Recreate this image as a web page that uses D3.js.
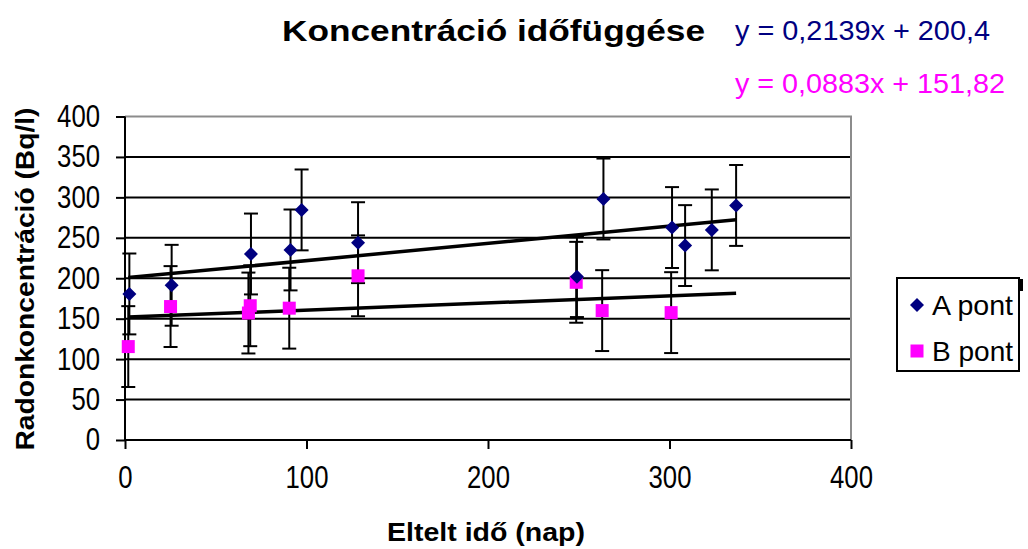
<!DOCTYPE html>
<html>
<head>
<meta charset="utf-8">
<script src="https://cdn.jsdelivr.net/npm/d3@7"></script>
<style>
  body { margin: 0; background: #fff; }
  text { font-family: Arial, "Liberation Sans", sans-serif; }
</style>
</head>
<body>
<div id="chart"></div>
<script>
// A pont measurements (days, Bq/l)
const aDays = [2.4, 25.7, 69.4, 91.2, 97.3, 128.4, 249, 263.6, 301.4, 308.6, 323.3, 336.7]
const aValues = [180.6, 191.3, 230, 235, 284.5, 244, 202, 298, 262.7, 240.4, 259.8, 290]
// B pont measurements
const bDays = [1.8, 25.1, 69, 68, 90.5, 128.4, 248.6, 262.9, 300.9]
const bValues = [115.5, 165, 166, 157, 163, 203, 195, 160, 157.5]
const errorValue = 50

// linear trendlines as printed on the chart
const trendA = { slope: 0.2139, intercept: 200.4, label: 'y = 0,2139x + 200,4' }
const trendB = { slope: 0.0883, intercept: 151.82, label: 'y = 0,0883x + 151,82' }

const xTicks = [0, 100, 200, 300, 400]
const yTicks = [0, 50, 100, 150, 200, 250, 300, 350, 400]

const width = 1028, height = 549
const plot = { left: 125, right: 851, top: 116.5, bottom: 440 }

const navy = '#000080', pink = '#ff00ff'

let svg = d3.select('#chart').append('svg')
  .attr('width', width)
  .attr('height', height)

const x = d3.scaleLinear().domain([0, 400]).range([plot.left, plot.right])
const y = d3.scaleLinear().domain([0, 400]).range([plot.bottom, plot.top])

// grid lines
svg.append('g')
  .selectAll('line')
  .data(yTicks.filter(d => d > 0 && d < 400))
  .enter()
  .append('line')
  .attr('x1', plot.left)
  .attr('x2', plot.right)
  .attr('y1', d => y(d))
  .attr('y2', d => y(d))
  .attr('stroke', '#000')
  .attr('stroke-width', 2)

// plot frame (top & right grey)
svg.append('path')
  .attr('d', `M${plot.left},${plot.top}H${plot.right}V${plot.bottom}`)
  .attr('fill', 'none')
  .attr('stroke', '#8c8c8c')
  .attr('stroke-width', 2)

// axes
const yAxis = svg.append('g')
  .attr('transform', `translate(${plot.left},0)`)
  .call(d3.axisLeft(y).tickValues(yTicks).tickSize(9).tickPadding(16).tickFormat(d3.format('d')))
const xAxis = svg.append('g')
  .attr('transform', `translate(0,${plot.bottom})`)
  .call(d3.axisBottom(x).tickValues(xTicks).tickSize(9).tickPadding(17).tickFormat(d3.format('d')))

for (const ax of [xAxis, yAxis]) {
  ax.select('.domain').attr('stroke', '#000').attr('stroke-width', 2)
  ax.selectAll('.tick line').attr('stroke', '#000').attr('stroke-width', 2)
  // narrow, tall digits like the original bitmap font
  ax.selectAll('.tick text')
    .attr('fill', '#000')
    .attr('textLength', d => String(d).length * 14.3)
    .attr('lengthAdjust', 'spacingAndGlyphs')
    .style('font-size', '31px')
    .style('font-family', 'Arial, "Liberation Sans", sans-serif')
}
yAxis.select('.domain').attr('d', `M0,${plot.top}V${plot.bottom}`)
xAxis.select('.domain').attr('d', `M${plot.left},0H${plot.right}`)

// trendlines
const xMin = d3.min(aDays.concat(bDays)), xMax = d3.max(aDays.concat(bDays))
for (const t of [trendA, trendB]) {
  svg.append('line')
    .attr('x1', x(xMin))
    .attr('x2', x(xMax))
    .attr('y1', y(t.slope * xMin + t.intercept))
    .attr('y2', y(t.slope * xMax + t.intercept))
    .attr('stroke', '#000')
    .attr('stroke-width', 3.5)
}

// error bars
function errorBars(days, values) {
  const g = svg.append('g').attr('stroke', '#000').attr('stroke-width', 2)
  days.forEach((d, i) => {
    const cx = x(d), top = y(values[i] + errorValue), bot = y(values[i] - errorValue)
    g.append('line').attr('x1', cx).attr('x2', cx).attr('y1', top).attr('y2', bot)
    g.append('line').attr('x1', cx - 7).attr('x2', cx + 7).attr('y1', top).attr('y2', top)
    g.append('line').attr('x1', cx - 7).attr('x2', cx + 7).attr('y1', bot).attr('y2', bot)
  })
}
errorBars(bDays, bValues)
errorBars(aDays, aValues)

// markers
const diamond = 'M0,-7L7,0L0,7L-7,0Z'
svg.append('g')
  .selectAll('rect')
  .data(bDays)
  .enter()
  .append('rect')
  .attr('x', d => x(d) - 6.5)
  .attr('y', (d, i) => y(bValues[i]) - 6.5)
  .attr('width', 13)
  .attr('height', 13)
  .attr('fill', pink)
svg.append('g')
  .selectAll('path')
  .data(aDays)
  .enter()
  .append('path')
  .attr('d', diamond)
  .attr('transform', (d, i) => `translate(${x(d)},${y(aValues[i])})`)
  .attr('fill', navy)

// titles
svg.append('text')
  .attr('x', 282).attr('y', 41)
  .attr('textLength', 423).attr('lengthAdjust', 'spacingAndGlyphs')
  .style('font-size', '29px').style('font-weight', 'bold')
  .text('Koncentráció időfüggése')
svg.append('text')
  .attr('x', 735).attr('y', 40)
  .attr('textLength', 255).attr('lengthAdjust', 'spacingAndGlyphs')
  .style('font-size', '27px').attr('fill', navy)
  .text(trendA.label)
svg.append('text')
  .attr('x', 735).attr('y', 93)
  .attr('textLength', 270).attr('lengthAdjust', 'spacingAndGlyphs')
  .style('font-size', '27px').attr('fill', pink)
  .text(trendB.label)

svg.append('text')
  .attr('x', 486).attr('y', 541)
  .attr('text-anchor', 'middle')
  .attr('textLength', 198).attr('lengthAdjust', 'spacingAndGlyphs')
  .style('font-size', '25px').style('font-weight', 'bold')
  .text('Eltelt idő (nap)')
svg.append('text')
  .attr('transform', 'translate(34,279) rotate(-90)')
  .attr('text-anchor', 'middle')
  .attr('textLength', 343).attr('lengthAdjust', 'spacingAndGlyphs')
  .style('font-size', '25px').style('font-weight', 'bold')
  .text('Radonkoncentráció (Bq/l)')

// legend
const legend = svg.append('g')
legend.append('rect')
  .attr('x', 897).attr('y', 278).attr('width', 122).attr('height', 93)
  .attr('fill', '#fff').attr('stroke', '#000').attr('stroke-width', 2)
legend.append('rect')
  .attr('x', 1019).attr('y', 279).attr('width', 4).attr('height', 12).attr('fill', '#000')
legend.append('path').attr('d', diamond).attr('transform', 'translate(917,305)').attr('fill', navy)
legend.append('rect').attr('x', 910.5).attr('y', 344.5).attr('width', 13).attr('height', 13).attr('fill', pink)
legend.append('text').attr('x', 932).attr('y', 315)
  .attr('textLength', 81).attr('lengthAdjust', 'spacingAndGlyphs')
  .style('font-size', '28px').text('A pont')
legend.append('text').attr('x', 932).attr('y', 361)
  .attr('textLength', 81).attr('lengthAdjust', 'spacingAndGlyphs')
  .style('font-size', '28px').text('B pont')
</script>
</body>
</html>
